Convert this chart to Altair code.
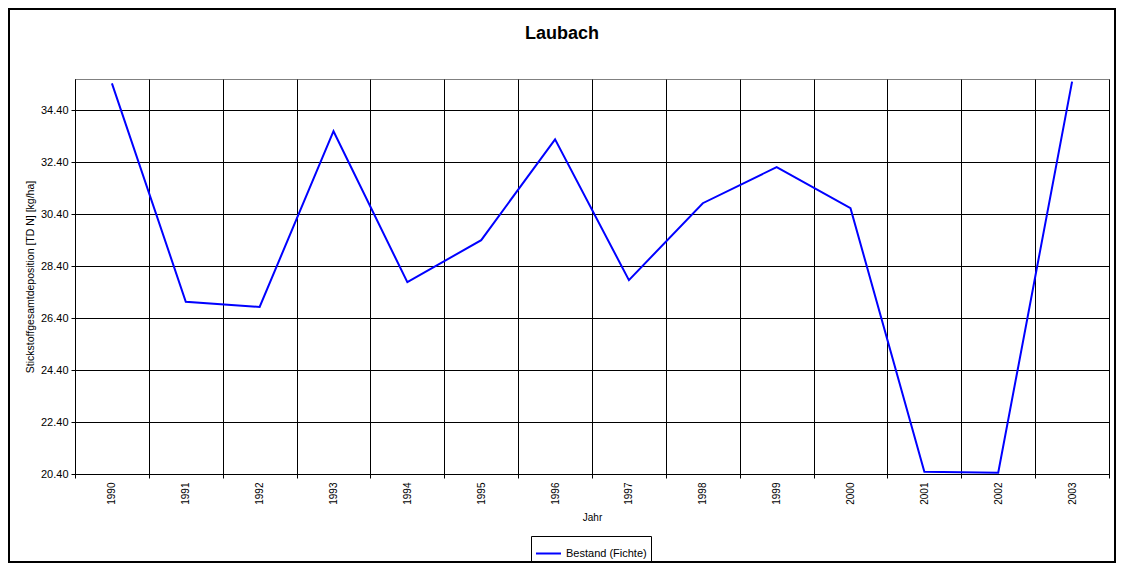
import altair as alt
import pandas as pd

years = ["1990", "1991", "1992", "1993", "1994", "1995", "1996",
         "1997", "1998", "1999", "2000", "2001", "2002", "2003"]
values = [35.43, 27.03, 26.83, 33.59, 27.78, 29.40, 33.28,
          27.86, 30.82, 32.21, 30.63, 20.49, 20.45, 35.50]
series_name = "Bestand (Fichte)"
y_ticks = [20.4, 22.4, 24.4, 26.4, 28.4, 30.4, 32.4, 34.4]

df = pd.DataFrame({"Jahr": years, "Wert": values, "Serie": [series_name] * len(years)})

FONT = "Liberation Sans"

line = alt.Chart(df).mark_line(strokeWidth=2).encode(
    x=alt.X("Jahr:O",
            scale=alt.Scale(type="band", paddingInner=0, paddingOuter=0),
            axis=alt.Axis(title="Jahr", tickBand="extent", labelAngle=270,
                          labelFontSize=10, labelPadding=4, tickSize=4,
                          titleFontSize=10, titleFontWeight="normal", titlePadding=8,
                          grid=True)),
    y=alt.Y("Wert:Q",
            scale=alt.Scale(domain=[20.4, 35.6], nice=False, zero=False),
            axis=alt.Axis(title="Stickstoffgesamtdeposition [TD N] [kg/ha]",
                          values=y_ticks, format=".2f", labelFontSize=11,
                          tickSize=4, labelPadding=3,
                          titleFontSize=10.5, titleFontWeight="normal", titlePadding=5,
                          grid=True)),
    color=alt.Color("Serie:N",
                    scale=alt.Scale(domain=[series_name], range=["#0000ff"]),
                    legend=alt.Legend(title=None, orient="none", legendX=456, legendY=457,
                                      symbolType="stroke", symbolSize=625,
                                      symbolStrokeWidth=2, labelFontSize=11,
                                      strokeColor="black", padding=4,
                                      labelFont=FONT)),
)

frame = alt.Chart(pd.DataFrame({"a": [0]})).mark_rect(
    fill="transparent", stroke="black", strokeWidth=2
).encode(
    x=alt.value(-66), x2=alt.value(1040),
    y=alt.value(-70), y2=alt.value(483),
)

chart = alt.layer(frame, line).properties(
    width=1034, height=395,
    padding={"left": 67, "top": 71, "right": 7, "bottom": 89},
    autosize=alt.AutoSizeParams(type="none"),
    title=alt.Title("Laubach", fontSize=18, fontWeight="bold", font=FONT,
                    offset=-35, dx=-30, color="black"),
).configure(
    font=FONT,
).configure_view(
    stroke="#808080", strokeWidth=1,
).configure_axis(
    domainColor="black", domainWidth=1, tickColor="black", gridColor="black",
    gridWidth=1, gridOpacity=1, labelColor="black", titleColor="black",
    labelFont=FONT, titleFont=FONT,
)

chart.save("out.html", embed_options={"renderer": "svg", "actions": False})
